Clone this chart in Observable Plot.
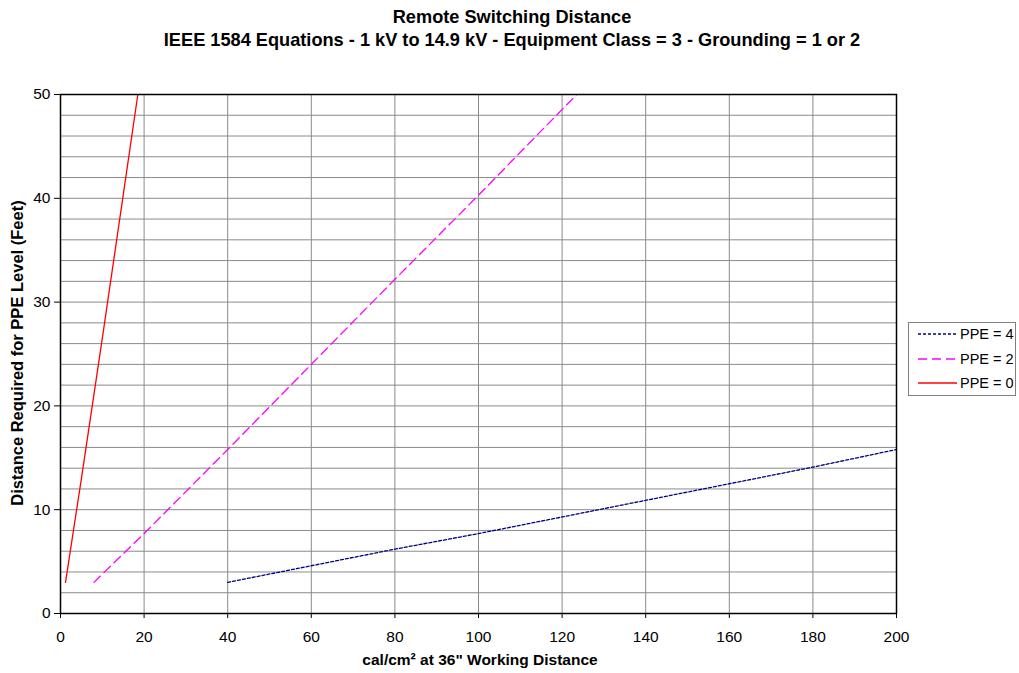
<!DOCTYPE html>
<html><head><meta charset="utf-8">
<script src="https://cdn.jsdelivr.net/npm/d3@7"></script>
<script src="https://cdn.jsdelivr.net/npm/@observablehq/plot@0.6"></script>
<style>
body{margin:0;background:#fff;font-family:"Liberation Sans",Arial,sans-serif;}
#wrap{position:relative;width:1019px;height:673px;overflow:hidden;}
#title{position:absolute;left:0;top:6px;width:1024px;text-align:center;font-weight:bold;font-size:18.2px;line-height:23px;color:#000;}
#legend{position:absolute;left:908px;top:322px;width:108px;height:74px;border:1px solid #808080;box-sizing:border-box;font-size:14.5px;}
.li{position:absolute;left:9px;height:16px;display:flex;align-items:center;white-space:nowrap;}
.li svg{margin-right:3px;}
#ylab{position:absolute;left:17px;top:353px;transform:translate(-50%,-50%) rotate(-90deg);white-space:nowrap;font-weight:bold;font-size:16.5px;}
#xlab{position:absolute;left:0;width:960px;top:651px;text-align:center;font-weight:bold;font-size:15.5px;}
</style></head>
<body>
<div id="wrap">
<div id="title">Remote Switching Distance<br>IEEE 1584 Equations - 1 kV to 14.9 kV - Equipment Class = 3 - Grounding = 1 or 2</div>
<div id="chart"></div>
<div id="ylab">Distance Required for PPE Level (Feet)</div>
<div id="xlab">cal/cm² at 36" Working Distance</div>
<div id="legend"></div>
</div>
<script>
const seriesNames = ["PPE = 4", "PPE = 2", "PPE = 0"];
const ppe4X = [40, 60, 80, 100, 120, 140, 160, 180, 200];
const ppe4Y = [3, 4.6, 6.2, 7.7, 9.3, 10.9, 12.5, 14.1, 15.8];
const ppe2X = [8, 20, 40, 60, 80, 100, 123.5];
const ppe2Y = [3, 7.7, 15.8, 24.0, 32.2, 40.3, 50];
const ppe0X = [1.2, 5, 10, 15, 18.5];
const ppe0Y = [3, 13.0, 26.5, 40.3, 50];
const xTicks = [0, 20, 40, 60, 80, 100, 120, 140, 160, 180, 200];
const yTicks = [0, 10, 20, 30, 40, 50];
const yGrid = [2,4,6,8,10,12,14,16,18,20,22,24,26,28,30,32,34,36,38,40,42,44,46,48];
const xGrid = [20,40,60,80,100,120,140,160,180];

const styles = {
  "PPE = 4": {stroke: "#000080", dash: "3,2", width: 1.3},
  "PPE = 2": {stroke: "#FF00FF", dash: "9,5", width: 1.3},
  "PPE = 0": {stroke: "#FF0000", dash: null, width: 1.3}
};
const mk = (xs, ys, s) => xs.map((x, i) => ({x, y: ys[i], s}));
const data = {
  "PPE = 4": mk(ppe4X, ppe4Y, "PPE = 4"),
  "PPE = 2": mk(ppe2X, ppe2Y, "PPE = 2"),
  "PPE = 0": mk(ppe0X, ppe0Y, "PPE = 0")
};

const plot = Plot.plot({
  width: 1019, height: 673,
  marginLeft: 60, marginRight: 123, marginTop: 94, marginBottom: 60,
  style: {fontFamily: '"Liberation Sans", Arial, sans-serif', fontSize: "15.5px", color: "#000", background: "#fff"},
  x: {domain: [0, 200], label: null},
  y: {domain: [0, 50], label: null},
  marks: [
    Plot.ruleY(yGrid, {stroke: "#8a8a8a", strokeWidth: 1}),
    Plot.ruleX(xGrid, {stroke: "#8a8a8a", strokeWidth: 1}),
    ...seriesNames.map(n => Plot.line(data[n], {x: "x", y: "y", stroke: styles[n].stroke, strokeWidth: styles[n].width, strokeDasharray: styles[n].dash, clip: true})),
    Plot.frame({stroke: "#000", strokeWidth: 1.5}),
    Plot.axisX({ticks: xTicks, tickSize: 5, tickPadding: 12, fontSize: 15.5, label: null}),
    Plot.axisY({ticks: yTicks, tickSize: 6, tickPadding: 4, fontSize: 15.5, label: null})
  ]
});
document.getElementById("chart").appendChild(plot);

const leg = document.getElementById("legend");
seriesNames.forEach((n, i) => {
  const d = document.createElement("div");
  d.className = "li";
  d.style.top = [3, 28, 52][i] + "px";
  const st = styles[n];
  d.innerHTML = `<svg width="39" height="10"><line x1="0" x2="39" y1="5" y2="5" stroke="${st.stroke}" stroke-width="1.3" ${st.dash ? `stroke-dasharray="${st.dash}"` : ""}/></svg><span>${n}</span>`;
  leg.appendChild(d);
});
</script>
</body></html>
